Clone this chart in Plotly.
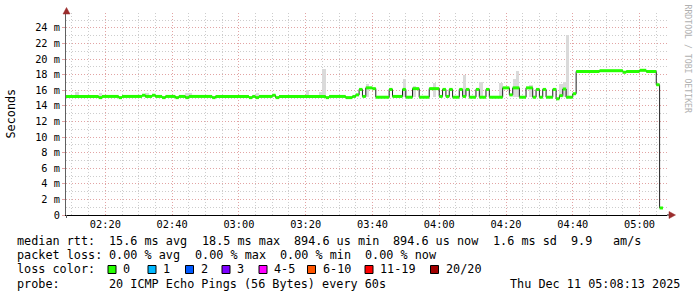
import plotly.graph_objects as go
import pandas as pd

# ---------------- data ----------------
DAY = "2025-12-11 "
# median RTT: start time of each step (clock) and value in ms
rtt_start = ["02:08", "02:18", "02:19", "02:24", "02:25", "02:31", "02:32", "02:34", "02:35", "02:37",
             "02:38", "02:41", "02:42", "02:44", "02:45", "02:52", "02:53", "03:03", "03:04", "03:05",
             "03:06", "03:10", "03:11", "03:12", "03:26", "03:27", "03:32", "03:34", "03:35",
             "03:36", "03:37", "03:38", "03:40", "03:41", "03:45", "03:46", "03:49", "03:50", "03:52",
             "03:54", "03:57", "04:00", "04:01", "04:02", "04:03", "04:04", "04:06", "04:07", "04:08",
             "04:09", "04:11", "04:12", "04:14", "04:15", "04:19", "04:21", "04:22", "04:24", "04:26",
             "04:28", "04:29", "04:30", "04:31", "04:32", "04:34", "04:35", "04:36", "04:37", "04:38",
             "04:40", "04:41", "04:48", "04:55", "04:56", "05:00", "05:02", "05:05", "05:06"]
rtt_ms = [15.2, 15.05, 15.2, 15.05, 15.2, 15.35, 15.2, 15.35, 15.2, 15.05,
          15.2, 15.05, 15.2, 15.05, 15.2, 15.05, 15.2, 15.05, 15.2, 15.05,
          15.2, 15.35, 15.05, 15.2, 15.05, 15.2, 15.05, 15.2, 15.4,
          16.1, 15.2, 16.3, 16.2, 15.1, 16.1, 15.2, 16.1, 15.1, 16.2,
          15.1, 16.2, 15.2, 16.1, 15.2, 16.1, 15.1, 16.1, 15.2, 16.1,
          15.1, 16.1, 15.1, 16.1, 15.1, 16.3, 15.4, 16.3, 15.1, 16.3,
          15.1, 16.1, 15.1, 16.1, 15.1, 16.1, 14.9, 15.3, 16.15, 15.1,
          15.55, 18.4, 18.5, 18.3, 18.4, 18.55, 18.4, 16.7, 0.9]
rtt_end = "05:07"
assert len(rtt_start) == len(rtt_ms)

# smoke (ping spread) per minute sample: time, min ms, max ms
smoke_time = ["02:11", "02:18", "02:32", "02:44", "02:45", "03:05", "03:20", "03:24", "03:25", "03:38",
              "03:49", "03:52", "03:58", "04:07", "04:12", "04:18", "04:22", "04:23", "04:27", "04:36",
              "04:37", "04:38", "04:48", "04:54"]
smoke_min = [15.0, 14.9, 15.0, 14.9, 15.0, 14.9, 15.0, 15.0, 15.0, 15.1,
             15.1, 15.1, 15.1, 15.1, 15.1, 15.1, 15.1, 15.1, 15.1, 15.1,
             15.1, 15.1, 18.3, 18.3]
smoke_max = [15.8, 15.7, 15.7, 15.6, 15.6, 15.6, 16.0, 15.8, 18.7, 16.8,
             17.4, 16.6, 16.9, 18.0, 17.0, 16.9, 17.4, 18.5, 16.7, 16.8,
             17.1, 23.1, 18.65, 18.65]

x_start, x_end = "02:08:13", "05:08:13"
y_ticks = [0, 2, 4, 6, 8, 10, 12, 14, 16, 18, 20, 22, 24]
y_ticktext = ["0"] + [f"{v} m" for v in y_ticks[1:]]

loss_labels = ["0", "1", "2", "3", "4-5", "6-10", "11-19", "20/20"]
loss_colors = ["#26ff00", "#00b8ff", "#0059ff", "#7e00ff", "#ff00ff", "#ff5500", "#ff0000", "#a10000"]

# legend text pieces (text, column in monospace cells)
legend_line1 = [("median rtt:", 0), ("15.6 ms avg", 13), ("18.5 ms max", 26), ("894.6 us min", 39),
                ("894.6 us now", 53), ("1.6 ms sd", 67), ("9.9", 78), ("am/s", 84)]
legend_line2 = [("packet loss:", 0), ("0.00 % avg", 13), ("0.00 % max", 25), ("0.00 % min", 37),
                ("0.00 % now", 49)]
legend_line3 = [("loss color:", 0)]
legend_line4 = [("probe:", 0), ("20 ICMP Echo Pings (56 Bytes) every 60s", 13)]
stamp = "Thu Dec 11 05:08:13 2025"

# ---------------- layout geometry ----------------
W, H = 697, 297
ML, MR, MT, MB = 66, 30, 13, 82
PW = W - ML - MR
PH = H - MT - MB
CHW = 7.1
def fx(x): return (x - ML) / PW
def fy(y): return (H - MB - y) / PH
def ts(hm): return pd.Timestamp(DAY + hm)
def s(t): return t.strftime("%Y-%m-%d %H:%M:%S")

MONO = "DejaVu Sans Mono"

fig = go.Figure()

# smoke
fig.add_trace(go.Bar(
    x=[s(ts(t) + pd.Timedelta(seconds=30)) for t in smoke_time],
    y=[hi - lo for lo, hi in zip(smoke_min, smoke_max)],
    base=smoke_min, width=[60000] * len(smoke_time),
    marker=dict(color="#dadada", line=dict(width=0)), hoverinfo="skip", showlegend=False))

# black step line
step_x = [s(ts(t)) for t in rtt_start] + [s(ts(rtt_end))]
step_y = rtt_ms + [rtt_ms[-1]]
fig.add_trace(go.Scatter(x=step_x, y=step_y, mode="lines", line=dict(color="#202020", width=1, shape="hv"),
                         hoverinfo="skip", showlegend=False))

# green horizontal segments
ends = rtt_start[1:] + [rtt_end]
gx, gy = [], []
for a, b, v in zip(rtt_start, ends, rtt_ms):
    gx += [s(ts(a)), s(ts(b)), None]
    gy += [v, v, None]
fig.add_trace(go.Scatter(x=gx, y=gy, mode="lines", line=dict(color=loss_colors[0], width=3),
                         hoverinfo="skip", showlegend=False))

RED_GRID = "#e2a4a4"
GRAY_GRID = "#cdcdcd"
DASH = "1px,2px"

fig.update_layout(
    width=W, height=H, margin=dict(l=ML, r=MR, t=MT, b=MB, pad=0),
    paper_bgcolor="white", plot_bgcolor="white", barmode="overlay", bargap=0,
    showlegend=False,
    xaxis=dict(range=[DAY + x_start, DAY + x_end], type="date", tickformat="%H:%M",
               tick0=DAY + "00:00", dtick=20 * 60 * 1000,
               showgrid=True, gridcolor=RED_GRID, griddash=DASH, gridwidth=1,
               minor=dict(dtick=5 * 60 * 1000, tick0=DAY + "00:00", showgrid=True,
                          gridcolor=GRAY_GRID, griddash=DASH, gridwidth=1),
               showline=True, linecolor="#000000", linewidth=1, zeroline=False,
               ticks="", tickfont=dict(family=MONO, size=10.3, color="#000"),
               fixedrange=True),
    yaxis=dict(range=[0, PH / 7.8], tickmode="array", tickvals=y_ticks, ticktext=y_ticktext,
               showgrid=True, gridcolor=RED_GRID, griddash=DASH, gridwidth=1,
               minor=dict(dtick=1, tick0=0, showgrid=True, gridcolor=GRAY_GRID, griddash=DASH, gridwidth=1),
               showline=True, linecolor="#606060", linewidth=1, zeroline=False,
               ticks="outside", ticklen=3, tickcolor=RED_GRID,
               tickfont=dict(family=MONO, size=10.3, color="#000"), fixedrange=True),
)

ann = []
def text(x, y, t, size=11.8, anchor="left", color="#000", angle=0):
    ann.append(dict(x=fx(x), y=fy(y), xref="paper", yref="paper", text=t, showarrow=False,
                    xanchor=anchor, yanchor="middle", textangle=angle, borderpad=0,
                    font=dict(family=MONO, size=size, color=color)))

for line, yy in ((legend_line1, 241), (legend_line2, 255), (legend_line3, 269), (legend_line4, 283.5)):
    for t, col in line:
        text(16 + col * CHW, yy, t)
text(681, 283.5, stamp, anchor="right")
text(10, 113.5, "Seconds", anchor="center", angle=-90)
text(687.5, 59, "RRDTOOL / TOBI OETIKER", size=8.2, anchor="center", color="#b0b0b0", angle=90)

shapes = []
box_x = [108, 148, 185.5, 222, 259, 307.5, 365, 430.5]
for bx, lab, col in zip(box_x, loss_labels, loss_colors):
    shapes.append(dict(type="rect", xref="paper", yref="paper", x0=fx(bx), x1=fx(bx + 8),
                       y0=fy(273.5), y1=fy(265.5), fillcolor=col, line=dict(color="#000", width=1)))
    text(bx + 14, 269, lab)

ARROW = "#9b2d2d"
# x axis extension + arrow
shapes.append(dict(type="line", xref="paper", yref="paper", x0=fx(ML + PW), x1=fx(670),
                   y0=fy(215), y1=fy(215), line=dict(color="#000", width=1)))
shapes.append(dict(type="path", xref="paper", yref="paper",
                   path=f"M {fx(669)},{fy(211.5)} L {fx(675.5)},{fy(215)} L {fx(669)},{fy(218.5)} Z",
                   fillcolor=ARROW, line=dict(color=ARROW, width=0.5)))
# y axis arrow
shapes.append(dict(type="path", xref="paper", yref="paper",
                   path=f"M {fx(63)},{fy(14)} L {fx(66.5)},{fy(7.5)} L {fx(70)},{fy(14)} Z",
                   fillcolor=ARROW, line=dict(color=ARROW, width=0.5)))
shapes.append(dict(type="line", xref="paper", yref="paper", x0=fx(66.5), x1=fx(66.5),
                   y0=fy(215), y1=fy(218), line=dict(color="#606060", width=1)))

fig.update_layout(annotations=ann, shapes=shapes)
fig.write_html("out.html")
